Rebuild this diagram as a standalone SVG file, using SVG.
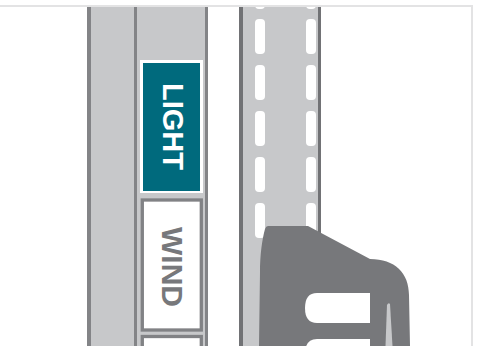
<svg xmlns="http://www.w3.org/2000/svg" width="483" height="346" viewBox="0 0 483 346">
<style>
.fill{fill:#c7c8ca}
.lineA{fill:#838487}
.lineB{fill:#717275}
.slot{fill:#ffffff}
.lbl{font-family:"Liberation Sans",Arial,sans-serif;font-weight:bold;font-size:29px}
</style>
<rect width="483" height="346" fill="#ffffff"/>
<g id="post-left">
<rect class="fill" x="87" y="7" width="121" height="339"/>
<rect class="lineA" x="87" y="7" width="4" height="339"/>
<rect class="lineA" x="134" y="7" width="3" height="339"/>
<rect class="lineA" x="205" y="7" width="3" height="339"/>
</g>
<g id="post-right">
<rect class="fill" x="239" y="7" width="82" height="339"/>
<rect class="lineB" x="239" y="7" width="4" height="339"/>
<rect class="lineB" x="318" y="7" width="3" height="339"/>
<g class="slot">
<rect x="255" y="-26" width="10" height="35" rx="4"/>
<rect x="306" y="-26" width="10" height="35" rx="4"/>
<rect x="255" y="19" width="10" height="35" rx="4"/>
<rect x="306" y="19" width="10" height="35" rx="4"/>
<rect x="255" y="65" width="10" height="35" rx="4"/>
<rect x="306" y="65" width="10" height="35" rx="4"/>
<rect x="255" y="111" width="10" height="35" rx="4"/>
<rect x="306" y="111" width="10" height="35" rx="4"/>
<rect x="255" y="157" width="10" height="35" rx="4"/>
<rect x="306" y="157" width="10" height="35" rx="4"/>
<rect x="255" y="203" width="10" height="35" rx="4"/>
<rect x="306" y="203" width="10" height="35" rx="4"/>
</g>
</g>
<g id="light">
<rect x="140" y="60" width="63" height="133" fill="#ffffff"/>
<rect x="143" y="63" width="57" height="128" fill="#006a7d"/>
<text class="lbl" fill="#ffffff" transform="translate(162.5,126.5) rotate(90)" text-anchor="middle" textLength="87" lengthAdjust="spacingAndGlyphs">LIGHT</text>
</g>
<g id="wind">
<rect x="142.3" y="200" width="59" height="130" fill="#ffffff" stroke="#818285" stroke-width="3.3"/>
<text class="lbl" fill="#77787b" transform="translate(161.5,267) rotate(90)" text-anchor="middle" textLength="80" lengthAdjust="spacingAndGlyphs">WIND</text>
</g>
<g id="box3">
<rect x="142.3" y="336.5" width="59" height="30" fill="#ffffff" stroke="#818285" stroke-width="3.3"/>
</g>
<g id="bracket">
<path fill="#77787b" d="M268 226 L308 226 L370 259 C395 259 409 273 409 295 L410 346 L259 346 L260 272 C260 255 262 240 265 229 Q266 226 268 226 Z"/>
<path fill="#ffffff" d="M317 293 L370 293 L370 323 L317 323 Q305 323 305 308 Q305 293 317 293 Z"/>
<path fill="#ffffff" d="M317 339 L370 339 L370 369 L317 369 Q305 369 305 354 Q305 339 317 339 Z"/>
<path fill="#c7c8ca" d="M387 305 Q388.5 302 390 304 L392.5 346 L385.5 346 Z"/>
</g>
<g id="connectors"/>
<g id="frame" fill="#e3e3e4">
<rect x="0" y="5" width="473" height="2"/>
<rect x="471" y="5" width="2" height="341"/>
</g>
</svg>
